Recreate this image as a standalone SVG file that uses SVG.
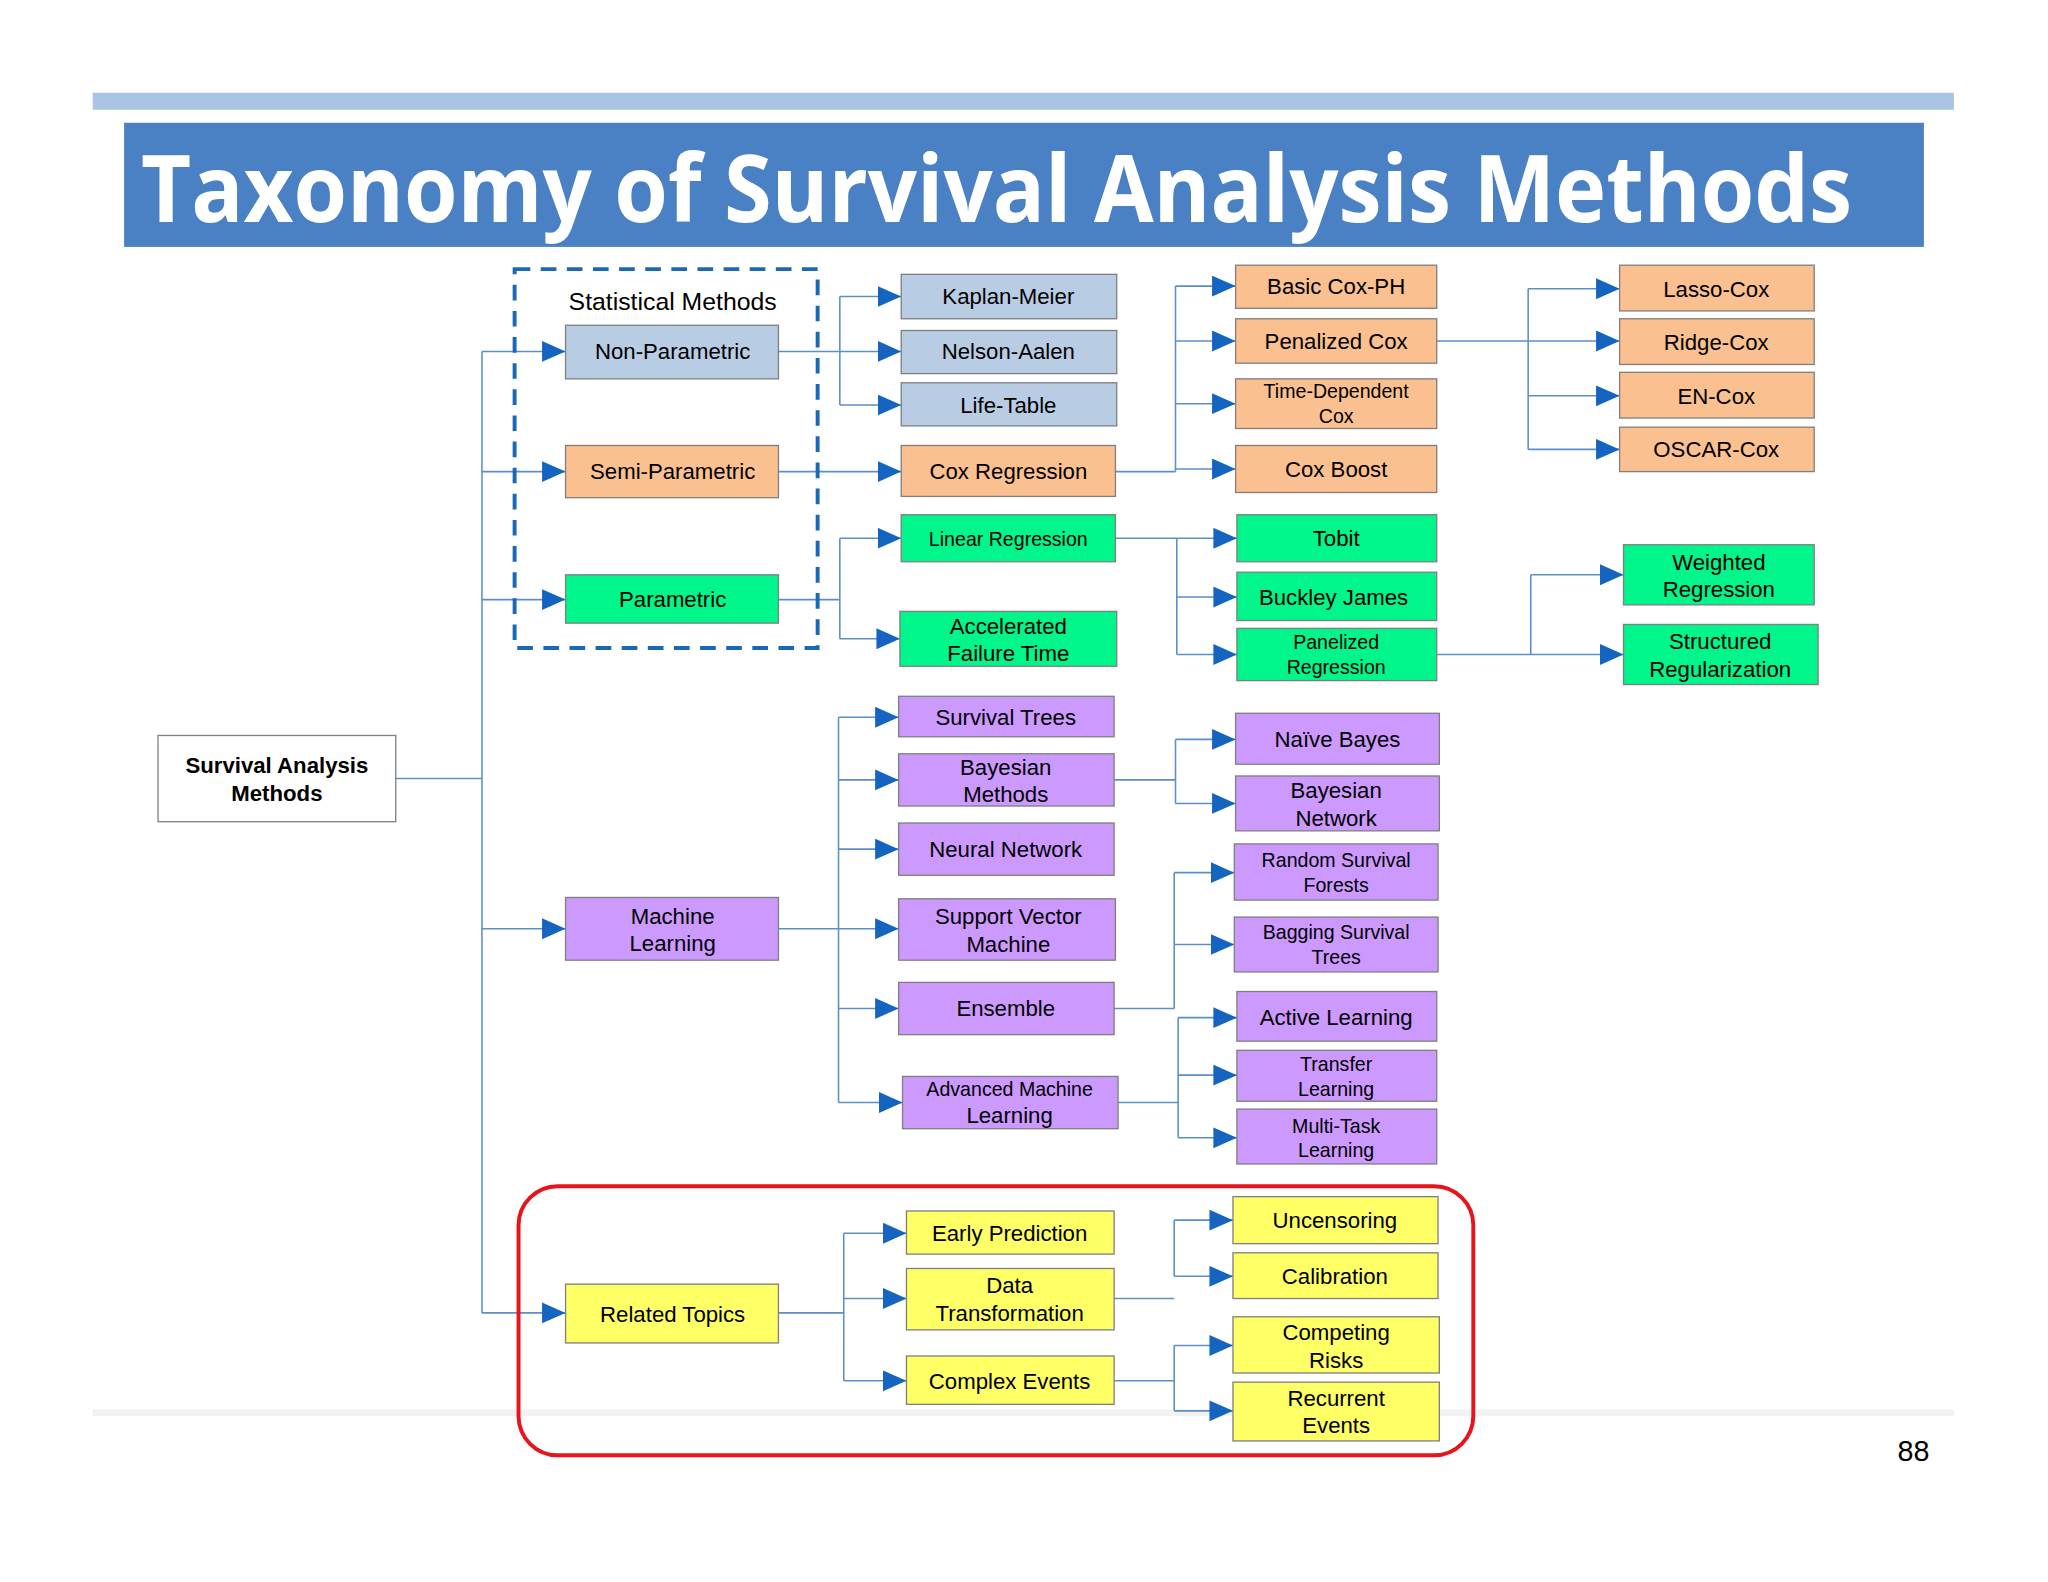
<svg xmlns="http://www.w3.org/2000/svg" width="2048" height="1582" viewBox="0 0 2048 1582">
<style>
.n rect{stroke:#7f7f7f;stroke-width:1}
.t{font-family:"Liberation Sans",Arial,sans-serif;font-size:17px;fill:#000;text-anchor:middle}
.s{font-size:15px}
.b{stroke:#b4c7e7}.bl rect{fill:#b8cce4}
.or rect{fill:#fac090}.gr rect{fill:#00f58a}.pu rect{fill:#cc99ff}.ye rect{fill:#ffff66}
.c path{fill:none;stroke:#5b8fc9;stroke-width:1.2}
.c path.a{marker-end:url(#ar)}
</style>
<defs>
<marker id="ar" markerUnits="userSpaceOnUse" markerWidth="19" markerHeight="18" refX="18" refY="8" orient="auto"><path d="M0,0 L18,8 L0,16 z" fill="#1565c0"/></marker>
</defs>
<rect width="2048" height="1582" fill="#fff"/>
<g transform="scale(1.30612,1.30636)">
<rect x="71" y="71" width="1425" height="13" fill="#aac4e3"/>
<rect x="95" y="94" width="1378" height="95" fill="#4a80c4"/>
<text x="108" y="170" font-family="Open Sans,Liberation Sans,sans-serif" font-weight="bold" font-size="72" fill="#fff" textLength="1310" lengthAdjust="spacingAndGlyphs">Taxonomy of Survival Analysis Methods</text>
<rect x="71" y="1079" width="1425" height="5" fill="#f2f2f2"/>
<text x="1465" y="1118" font-family="Liberation Sans,sans-serif" font-size="22" text-anchor="middle">88</text>

<g class="c">
<path d="M303 596 H369 M369 269 V1005"/>
<path class="a" d="M369 269 H433"/><path class="a" d="M369 361 H433"/><path class="a" d="M369 459 H433"/><path class="a" d="M369 711 H433"/><path class="a" d="M369 1005 H433"/>
<path d="M596 269 H643 M643 227 V310"/>
<path class="a" d="M643 227 H690"/><path class="a" d="M643 269 H690"/><path class="a" d="M643 310 H690"/>
<path class="a" d="M596 361 H690"/>
<path d="M596 459 H643 M643 412 V489"/>
<path class="a" d="M643 412 H690"/><path class="a" d="M643 489 H689"/>
<path d="M596 711 H642 M642 549 V844"/>
<path class="a" d="M642 549 H688"/><path class="a" d="M642 597 H688"/><path class="a" d="M642 650 H688"/><path class="a" d="M642 711 H688"/><path class="a" d="M642 772 H688"/><path class="a" d="M642 844 H691"/>
<path d="M596 1005 H646 M646 944 V1057"/>
<path class="a" d="M646 944 H694"/><path class="a" d="M646 994 H694"/><path class="a" d="M646 1057 H694"/>
<path d="M854 361 H900 M900 219 V361"/>
<path class="a" d="M900 219 H946"/><path class="a" d="M900 261 H946"/><path class="a" d="M900 309 H946"/><path class="a" d="M900 359 H946"/>
<path d="M854 412 H901 M901 412 V501"/>
<path class="a" d="M901 412 H947"/><path class="a" d="M901 457 H947"/><path class="a" d="M901 501 H947"/>
<path d="M853 597 H900 M900 566 V615"/>
<path class="a" d="M900 566 H946"/><path class="a" d="M900 615 H946"/>
<path d="M853 772 H899 M899 668 V772"/>
<path class="a" d="M899 668 H945"/><path class="a" d="M899 723 H945"/>
<path d="M856 844 H902 M902 779 V871"/>
<path class="a" d="M902 779 H947"/><path class="a" d="M902 823 H947"/><path class="a" d="M902 871 H947"/>
<path d="M853 994 H899 M899 934 V977"/>
<path class="a" d="M899 934 H944"/><path class="a" d="M899 977 H944"/>
<path d="M853 1057 H899 M899 1030 V1080"/>
<path class="a" d="M899 1030 H944"/><path class="a" d="M899 1080 H944"/>
<path d="M1100 261 H1170 M1170 221 V344"/>
<path class="a" d="M1170 221 H1240"/><path class="a" d="M1170 261 H1240"/><path class="a" d="M1170 303 H1240"/><path class="a" d="M1170 344 H1240"/>
<path d="M1100 501 H1172 M1172 440 V501"/>
<path class="a" d="M1172 440 H1243"/><path class="a" d="M1172 501 H1243"/>
</g>

<rect x="394" y="206" width="232" height="290" fill="none" stroke="#1a68b8" stroke-width="3" stroke-dasharray="12,8"/>
<text class="t" x="515" y="237" font-size="19" style="font-size:19px">Statistical Methods</text>
<rect x="397" y="908" width="731" height="206" rx="30" fill="none" stroke="#e8141b" stroke-width="3"/>

<g id="root" class="n"><rect x="121" y="563" width="182" height="66" fill="#fff"/><text class="t" x="212" y="592" font-weight="bold">Survival Analysis</text><text class="t" x="212" y="613" font-weight="bold">Methods</text></g>

<g id="nonpar" class="n bl"><rect x="433" y="249" width="163" height="41"/><text class="t" x="515" y="275">Non-Parametric</text></g>
<g id="semipar" class="n or"><rect x="433" y="341" width="163" height="40"/><text class="t" x="515" y="367">Semi-Parametric</text></g>
<g id="par" class="n gr"><rect x="433" y="440" width="163" height="37"/><text class="t" x="515" y="465">Parametric</text></g>
<g id="ml" class="n pu"><rect x="433" y="687" width="163" height="48"/><text class="t" x="515" y="707">Machine</text><text class="t" x="515" y="728">Learning</text></g>
<g id="rel" class="n ye"><rect x="433" y="983" width="163" height="45"/><text class="t" x="515" y="1012">Related Topics</text></g>

<g id="km" class="n bl"><rect x="690" y="210" width="165" height="34"/><text class="t" x="772" y="233">Kaplan-Meier</text></g>
<g id="na" class="n bl"><rect x="690" y="253" width="165" height="33"/><text class="t" x="772" y="275">Nelson-Aalen</text></g>
<g id="lt" class="n bl"><rect x="690" y="293" width="165" height="33"/><text class="t" x="772" y="316">Life-Table</text></g>
<g id="coxreg" class="n or"><rect x="690" y="341" width="164" height="39"/><text class="t" x="772" y="367">Cox Regression</text></g>
<g id="linreg" class="n gr"><rect x="690" y="394" width="164" height="36"/><text class="t s" x="772" y="418">Linear Regression</text></g>
<g id="aft" class="n gr"><rect x="689" y="468" width="166" height="42"/><text class="t" x="772" y="485">Accelerated</text><text class="t" x="772" y="506">Failure Time</text></g>
<g id="st" class="n pu"><rect x="688" y="533" width="165" height="31"/><text class="t" x="770" y="555">Survival Trees</text></g>
<g id="bm" class="n pu"><rect x="688" y="577" width="165" height="40"/><text class="t" x="770" y="593">Bayesian</text><text class="t" x="770" y="614">Methods</text></g>
<g id="nn" class="n pu"><rect x="688" y="630" width="165" height="40"/><text class="t" x="770" y="656">Neural Network</text></g>
<g id="svm" class="n pu"><rect x="688" y="688" width="166" height="47"/><text class="t" x="772" y="707">Support Vector</text><text class="t" x="772" y="729">Machine</text></g>
<g id="ens" class="n pu"><rect x="688" y="752" width="165" height="40"/><text class="t" x="770" y="778">Ensemble</text></g>
<g id="aml" class="n pu"><rect x="691" y="824" width="165" height="40"/><text class="t s" x="773" y="839">Advanced Machine</text><text class="t" x="773" y="860">Learning</text></g>
<g id="ep" class="n ye"><rect x="694" y="927" width="159" height="33"/><text class="t" x="773" y="950">Early Prediction</text></g>
<g id="dt" class="n ye"><rect x="694" y="971" width="159" height="47"/><text class="t" x="773" y="990">Data</text><text class="t" x="773" y="1011">Transformation</text></g>
<g id="ce" class="n ye"><rect x="694" y="1038" width="159" height="37"/><text class="t" x="773" y="1063">Complex Events</text></g>

<g id="bcox" class="n or"><rect x="946" y="203" width="154" height="33"/><text class="t" x="1023" y="225">Basic Cox-PH</text></g>
<g id="pcox" class="n or"><rect x="946" y="244" width="154" height="34"/><text class="t" x="1023" y="267">Penalized Cox</text></g>
<g id="tdcox" class="n or"><rect x="946" y="290" width="154" height="38"/><text class="t s" x="1023" y="305">Time-Dependent</text><text class="t s" x="1023" y="324">Cox</text></g>
<g id="cboost" class="n or"><rect x="946" y="341" width="154" height="36"/><text class="t" x="1023" y="365">Cox Boost</text></g>
<g id="tobit" class="n gr"><rect x="947" y="394" width="153" height="36"/><text class="t" x="1023" y="418">Tobit</text></g>
<g id="bj" class="n gr"><rect x="947" y="438" width="153" height="37"/><text class="t" x="1021" y="463">Buckley James</text></g>
<g id="preg" class="n gr"><rect x="947" y="481" width="153" height="40"/><text class="t s" x="1023" y="497">Panelized</text><text class="t s" x="1023" y="516">Regression</text></g>
<g id="nb" class="n pu"><rect x="946" y="546" width="156" height="39"/><text class="t" x="1024" y="572">Naïve Bayes</text></g>
<g id="bn" class="n pu"><rect x="946" y="594" width="156" height="42"/><text class="t" x="1023" y="611">Bayesian</text><text class="t" x="1023" y="632">Network</text></g>
<g id="rsf" class="n pu"><rect x="945" y="646" width="156" height="43"/><text class="t s" x="1023" y="664">Random Survival</text><text class="t s" x="1023" y="683">Forests</text></g>
<g id="bst" class="n pu"><rect x="945" y="702" width="156" height="42"/><text class="t s" x="1023" y="719">Bagging Survival</text><text class="t s" x="1023" y="738">Trees</text></g>
<g id="al" class="n pu"><rect x="947" y="759" width="153" height="38"/><text class="t" x="1023" y="785">Active Learning</text></g>
<g id="tl" class="n pu"><rect x="947" y="804" width="153" height="39"/><text class="t s" x="1023" y="820">Transfer</text><text class="t s" x="1023" y="839">Learning</text></g>
<g id="mtl" class="n pu"><rect x="947" y="849" width="153" height="42"/><text class="t s" x="1023" y="867">Multi-Task</text><text class="t s" x="1023" y="886">Learning</text></g>
<g id="unc" class="n ye"><rect x="944" y="916" width="157" height="36"/><text class="t" x="1022" y="940">Uncensoring</text></g>
<g id="cal" class="n ye"><rect x="944" y="959" width="157" height="35"/><text class="t" x="1022" y="983">Calibration</text></g>
<g id="cr" class="n ye"><rect x="944" y="1008" width="158" height="43"/><text class="t" x="1023" y="1026">Competing</text><text class="t" x="1023" y="1047">Risks</text></g>
<g id="re" class="n ye"><rect x="944" y="1058" width="158" height="45"/><text class="t" x="1023" y="1076">Recurrent</text><text class="t" x="1023" y="1097">Events</text></g>

<g id="lasso" class="n or"><rect x="1240" y="203" width="149" height="35"/><text class="t" x="1314" y="227">Lasso-Cox</text></g>
<g id="ridge" class="n or"><rect x="1240" y="244" width="149" height="35"/><text class="t" x="1314" y="268">Ridge-Cox</text></g>
<g id="en" class="n or"><rect x="1240" y="285" width="149" height="35"/><text class="t" x="1314" y="309">EN-Cox</text></g>
<g id="oscar" class="n or"><rect x="1240" y="327" width="149" height="34"/><text class="t" x="1314" y="350">OSCAR-Cox</text></g>
<g id="wr" class="n gr"><rect x="1243" y="417" width="146" height="46"/><text class="t" x="1316" y="436">Weighted</text><text class="t" x="1316" y="457">Regression</text></g>
<g id="sr" class="n gr"><rect x="1243" y="478" width="149" height="46"/><text class="t" x="1317" y="497">Structured</text><text class="t" x="1317" y="518">Regularization</text></g>
</g>
</svg>
